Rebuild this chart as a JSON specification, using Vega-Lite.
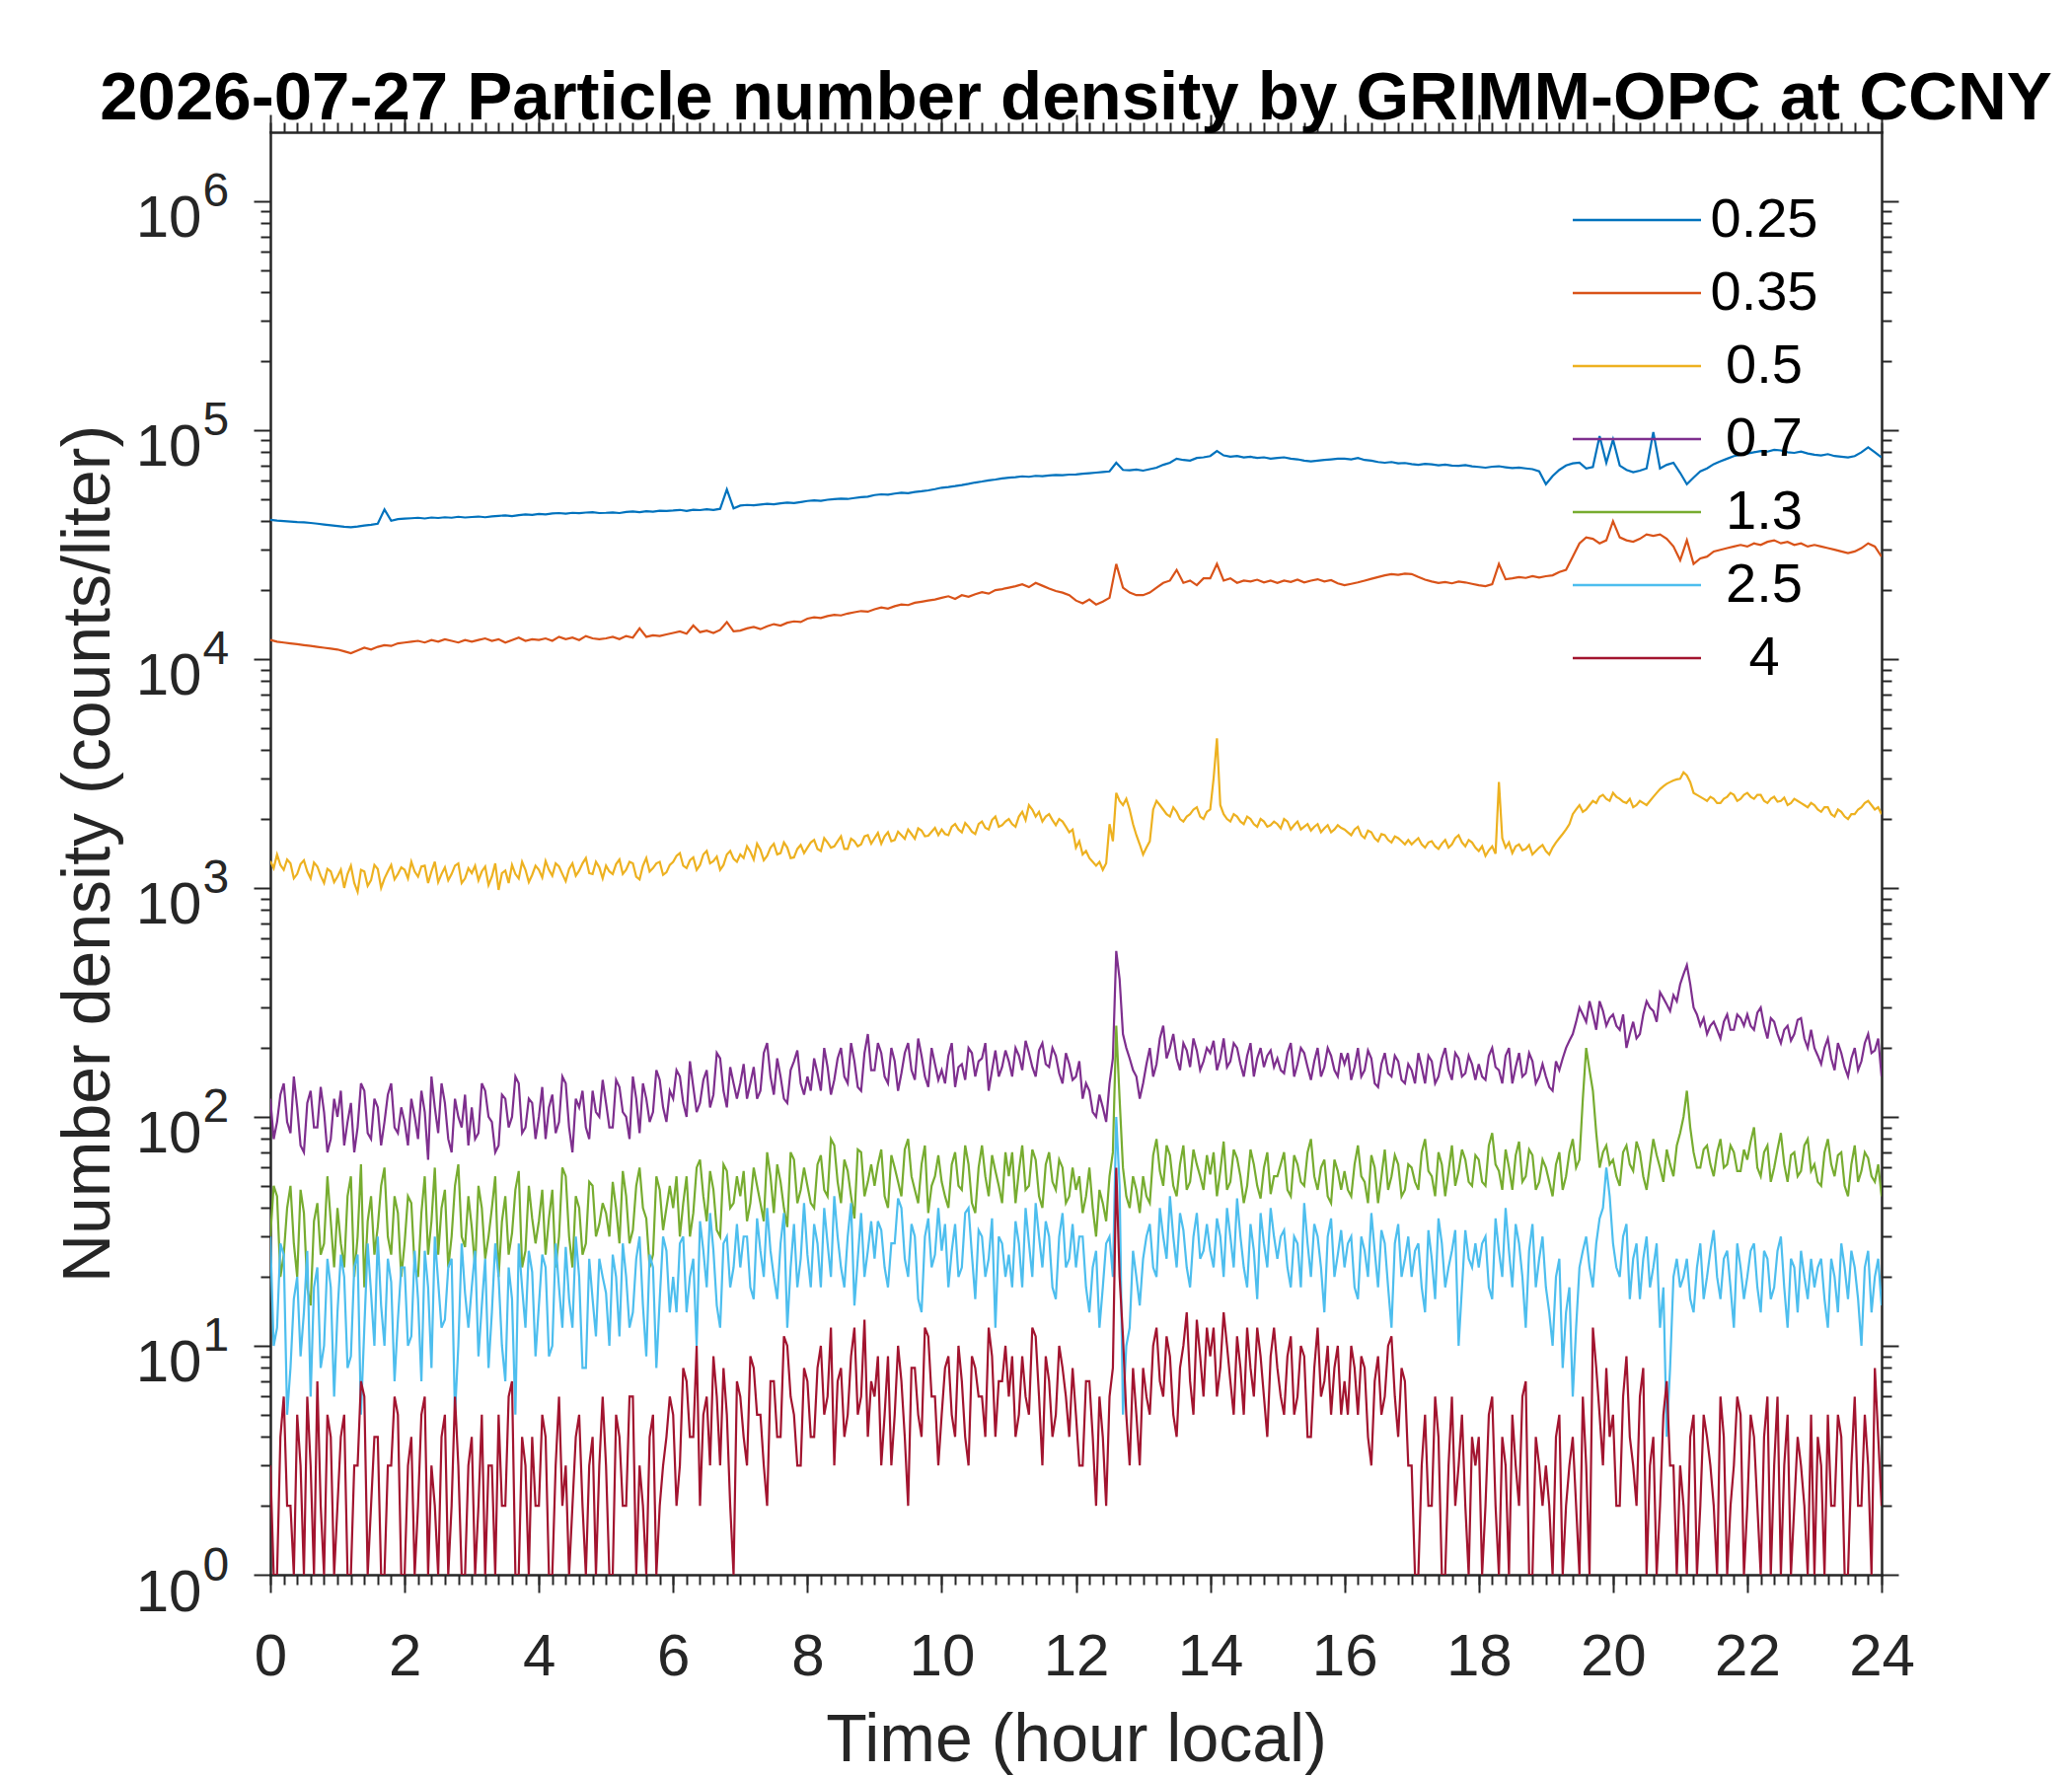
{
  "$schema": "https://vega.github.io/schema/vega-lite/v6.json",
  "width": 1633,
  "height": 1462,
  "autosize": "none",
  "padding": {"left": 274, "top": 134, "right": 193, "bottom": 204},
  "background": "white",
  "config": {
    "view": {"stroke": null},
    "axis": {
      "grid": false,
      "domainColor": "#262626",
      "domainWidth": 2.5,
      "domainCap": "square",
      "tickColor": "#262626",
      "tickWidth": 2,
      "labelColor": "#262626",
      "labelFont": "Liberation Sans",
      "labelFontSize": 60,
      "labelOverlap": false,
      "labelFlush": false,
      "titleFont": "Liberation Sans",
      "titleFontSize": 68,
      "titleFontWeight": "normal",
      "titleColor": "#262626"
    }
  },
  "title": {
    "text": "2026-07-27 Particle number density by GRIMM-OPC at CCNY",
    "font": "Liberation Sans",
    "fontSize": 69,
    "fontWeight": "bold",
    "color": "black",
    "anchor": "middle",
    "frame": "group",
    "baseline": "alphabetic",
    "offset": -75
  },
  "data": {
    "values": [
      {"t":0.0,"a":40500,"b":12100,"c":1310,"d":120,"e":30,"f":30,"g":3},
      {"t":0.1,"a":40200,"b":11900,"c":1400,"d":95,"e":45,"f":12,"g":1},
      {"t":0.2,"a":40000,"b":11800,"c":1200,"d":140,"e":25,"f":25,"g":6},
      {"t":0.3,"a":39800,"b":11700,"c":1280,"d":85,"e":50,"f":8,"g":2},
      {"t":0.4,"a":39600,"b":11600,"c":1150,"d":110,"e":20,"f":20,"g":5},
      {"t":0.5,"a":39500,"b":11500,"c":1320,"d":70,"e":38,"f":14,"g":1},
      {"t":0.6,"a":39300,"b":11400,"c":1100,"d":130,"e":15,"f":6,"g":3},
      {"t":0.7,"a":39000,"b":11300,"c":1240,"d":90,"e":42,"f":22,"g":7},
      {"t":0.8,"a":38700,"b":11200,"c":1050,"d":105,"e":28,"f":10,"g":1},
      {"t":0.9,"a":38400,"b":11100,"c":1180,"d":80,"e":35,"f":18,"g":4},
      {"t":1.0,"a":38100,"b":11000,"c":1120,"d":100,"e":40,"f":14,"g":2},
      {"t":1.1,"a":37800,"b":10800,"c":1000,"d":75,"e":22,"f":20,"g":5},
      {"t":1.2,"a":37600,"b":10600,"c":1250,"d":115,"e":55,"f":9,"g":1},
      {"t":1.3,"a":37900,"b":10900,"c":960,"d":90,"e":30,"f":25,"g":3},
      {"t":1.4,"a":38300,"b":11200,"c":1180,"d":130,"e":18,"f":12,"g":6},
      {"t":1.5,"a":38600,"b":11000,"c":1080,"d":80,"e":45,"f":17,"g":2},
      {"t":1.6,"a":39000,"b":11300,"c":1210,"d":110,"e":33,"f":30,"g":4},
      {"t":1.7,"a":45000,"b":11500,"c":1100,"d":95,"e":60,"f":10,"g":1},
      {"t":1.8,"a":40200,"b":11400,"c":1260,"d":140,"e":25,"f":19,"g":3},
      {"t":1.9,"a":40800,"b":11700,"c":1150,"d":85,"e":38,"f":13,"g":5},
      {"t":2.0,"a":41000,"b":11800,"c":1200,"d":95,"e":28,"f":22,"g":1},
      {"t":2.1,"a":41200,"b":11900,"c":1300,"d":120,"e":42,"f":11,"g":4},
      {"t":2.2,"a":41400,"b":12000,"c":1120,"d":80,"e":20,"f":16,"g":2},
      {"t":2.3,"a":41100,"b":11800,"c":1250,"d":105,"e":55,"f":26,"g":6},
      {"t":2.4,"a":41500,"b":12100,"c":1180,"d":150,"e":35,"f":8,"g":3},
      {"t":2.5,"a":41300,"b":11900,"c":1060,"d":85,"e":25,"f":19,"g":1},
      {"t":2.6,"a":41600,"b":12200,"c":1230,"d":115,"e":48,"f":13,"g":5},
      {"t":2.7,"a":41400,"b":12000,"c":1150,"d":70,"e":30,"f":24,"g":2},
      {"t":2.8,"a":41800,"b":11800,"c":1280,"d":100,"e":62,"f":10,"g":3},
      {"t":2.9,"a":41500,"b":12100,"c":1100,"d":125,"e":27,"f":17,"g":1},
      {"t":3.0,"a":41700,"b":11900,"c":1160,"d":110,"e":33,"f":18,"g":4},
      {"t":3.1,"a":41900,"b":12100,"c":1080,"d":85,"e":50,"f":9,"g":2},
      {"t":3.2,"a":41600,"b":12300,"c":1240,"d":130,"e":24,"f":24,"g":1},
      {"t":3.3,"a":42000,"b":12000,"c":1120,"d":95,"e":40,"f":14,"g":3},
      {"t":3.4,"a":42200,"b":12200,"c":980,"d":75,"e":20,"f":20,"g":5},
      {"t":3.5,"a":42400,"b":11800,"c":1190,"d":120,"e":45,"f":7,"g":2},
      {"t":3.6,"a":42100,"b":12100,"c":1260,"d":100,"e":31,"f":16,"g":7},
      {"t":3.7,"a":42500,"b":12400,"c":1100,"d":140,"e":58,"f":28,"g":1},
      {"t":3.8,"a":42800,"b":12000,"c":1200,"d":90,"e":26,"f":12,"g":3},
      {"t":3.9,"a":42600,"b":12200,"c":1140,"d":115,"e":36,"f":21,"g":4},
      {"t":4.0,"a":43000,"b":12100,"c":1200,"d":100,"e":35,"f":15,"g":2},
      {"t":4.1,"a":42800,"b":12300,"c":1310,"d":80,"e":25,"f":22,"g":4},
      {"t":4.2,"a":43200,"b":12000,"c":1130,"d":125,"e":48,"f":10,"g":1},
      {"t":4.3,"a":43400,"b":12500,"c":1240,"d":95,"e":30,"f":18,"g":6},
      {"t":4.4,"a":43100,"b":12200,"c":1070,"d":140,"e":55,"f":27,"g":3},
      {"t":4.5,"a":43500,"b":12400,"c":1280,"d":70,"e":22,"f":12,"g":2},
      {"t":4.6,"a":43300,"b":12100,"c":1190,"d":110,"e":40,"f":20,"g":5},
      {"t":4.7,"a":43600,"b":12600,"c":1350,"d":90,"e":28,"f":8,"g":1},
      {"t":4.8,"a":43800,"b":12300,"c":1150,"d":130,"e":50,"f":16,"g":4},
      {"t":4.9,"a":43400,"b":12200,"c":1230,"d":100,"e":34,"f":24,"g":3},
      {"t":5.0,"a":43500,"b":12300,"c":1250,"d":115,"e":38,"f":17,"g":3},
      {"t":5.1,"a":43700,"b":12500,"c":1150,"d":90,"e":52,"f":25,"g":1},
      {"t":5.2,"a":43400,"b":12200,"c":1330,"d":135,"e":28,"f":11,"g":4},
      {"t":5.3,"a":43900,"b":12600,"c":1200,"d":100,"e":45,"f":20,"g":2},
      {"t":5.4,"a":44100,"b":12400,"c":1280,"d":150,"e":32,"f":14,"g":6},
      {"t":5.5,"a":43800,"b":13600,"c":1090,"d":85,"e":60,"f":30,"g":3},
      {"t":5.6,"a":44200,"b":12500,"c":1350,"d":120,"e":36,"f":9,"g":1},
      {"t":5.7,"a":44000,"b":12700,"c":1220,"d":105,"e":25,"f":22,"g":5},
      {"t":5.8,"a":44400,"b":12600,"c":1300,"d":145,"e":48,"f":16,"g":2},
      {"t":5.9,"a":44300,"b":12800,"c":1170,"d":95,"e":40,"f":26,"g":4},
      {"t":6.0,"a":44500,"b":13000,"c":1300,"d":120,"e":40,"f":20,"g":5},
      {"t":6.1,"a":44800,"b":13200,"c":1420,"d":150,"e":30,"f":28,"g":3},
      {"t":6.2,"a":44300,"b":12900,"c":1220,"d":100,"e":55,"f":14,"g":7},
      {"t":6.3,"a":44900,"b":14000,"c":1360,"d":135,"e":38,"f":24,"g":4},
      {"t":6.4,"a":44700,"b":13100,"c":1260,"d":115,"e":65,"f":35,"g":2},
      {"t":6.5,"a":45100,"b":13300,"c":1450,"d":160,"e":35,"f":18,"g":6},
      {"t":6.6,"a":44800,"b":13000,"c":1310,"d":125,"e":48,"f":26,"g":9},
      {"t":6.7,"a":45300,"b":13400,"c":1200,"d":180,"e":30,"f":12,"g":3},
      {"t":6.8,"a":55000,"b":14500,"c":1400,"d":110,"e":58,"f":30,"g":5},
      {"t":6.9,"a":45500,"b":13200,"c":1340,"d":140,"e":42,"f":22,"g":1},
      {"t":7.0,"a":46800,"b":13300,"c":1400,"d":140,"e":45,"f":22,"g":6},
      {"t":7.1,"a":47100,"b":13600,"c":1520,"d":120,"e":35,"f":30,"g":3},
      {"t":7.2,"a":46900,"b":13800,"c":1330,"d":165,"e":60,"f":16,"g":8},
      {"t":7.3,"a":47300,"b":13500,"c":1470,"d":130,"e":42,"f":26,"g":5},
      {"t":7.4,"a":47600,"b":13900,"c":1380,"d":210,"e":70,"f":40,"g":2},
      {"t":7.5,"a":47400,"b":14200,"c":1560,"d":125,"e":38,"f":20,"g":7},
      {"t":7.6,"a":47900,"b":14000,"c":1420,"d":150,"e":52,"f":28,"g":4},
      {"t":7.7,"a":48200,"b":14400,"c":1500,"d":115,"e":33,"f":12,"g":10},
      {"t":7.8,"a":48000,"b":14600,"c":1360,"d":175,"e":65,"f":34,"g":5},
      {"t":7.9,"a":48500,"b":14500,"c":1540,"d":140,"e":48,"f":24,"g":3},
      {"t":8.0,"a":49000,"b":15000,"c":1500,"d":150,"e":50,"f":25,"g":7},
      {"t":8.1,"a":49300,"b":15200,"c":1620,"d":180,"e":40,"f":34,"g":4},
      {"t":8.2,"a":49100,"b":15100,"c":1450,"d":130,"e":68,"f":18,"g":10},
      {"t":8.3,"a":49600,"b":15400,"c":1580,"d":165,"e":45,"f":28,"g":6},
      {"t":8.4,"a":49900,"b":15600,"c":1520,"d":145,"e":75,"f":45,"g":3},
      {"t":8.5,"a":50200,"b":15500,"c":1680,"d":200,"e":42,"f":22,"g":8},
      {"t":8.6,"a":50000,"b":15800,"c":1480,"d":140,"e":58,"f":30,"g":5},
      {"t":8.7,"a":50500,"b":16000,"c":1600,"d":175,"e":36,"f":15,"g":12},
      {"t":8.8,"a":50900,"b":16200,"c":1550,"d":130,"e":70,"f":38,"g":6},
      {"t":8.9,"a":51200,"b":16100,"c":1700,"d":230,"e":52,"f":26,"g":4},
      {"t":9.0,"a":52000,"b":16500,"c":1650,"d":160,"e":50,"f":24,"g":6},
      {"t":9.1,"a":52400,"b":16800,"c":1560,"d":190,"e":72,"f":32,"g":3},
      {"t":9.2,"a":52200,"b":16600,"c":1750,"d":140,"e":40,"f":18,"g":9},
      {"t":9.3,"a":52800,"b":17000,"c":1620,"d":175,"e":60,"f":28,"g":5},
      {"t":9.4,"a":53200,"b":17300,"c":1700,"d":155,"e":45,"f":40,"g":7},
      {"t":9.5,"a":53000,"b":17200,"c":1800,"d":210,"e":80,"f":20,"g":2},
      {"t":9.6,"a":53600,"b":17600,"c":1640,"d":145,"e":48,"f":30,"g":8},
      {"t":9.7,"a":54000,"b":17800,"c":1780,"d":185,"e":62,"f":14,"g":4},
      {"t":9.8,"a":54500,"b":18000,"c":1690,"d":135,"e":38,"f":36,"g":11},
      {"t":9.9,"a":55200,"b":18200,"c":1830,"d":170,"e":55,"f":25,"g":6},
      {"t":10.0,"a":56000,"b":18500,"c":1800,"d":160,"e":52,"f":26,"g":5},
      {"t":10.1,"a":56400,"b":18800,"c":1700,"d":185,"e":40,"f":18,"g":9},
      {"t":10.2,"a":56900,"b":18300,"c":1900,"d":135,"e":70,"f":34,"g":4},
      {"t":10.3,"a":57500,"b":19000,"c":1750,"d":170,"e":48,"f":22,"g":7},
      {"t":10.4,"a":58200,"b":18700,"c":1850,"d":200,"e":62,"f":40,"g":3},
      {"t":10.5,"a":59000,"b":19200,"c":1720,"d":150,"e":38,"f":16,"g":8},
      {"t":10.6,"a":59600,"b":19600,"c":1950,"d":180,"e":75,"f":30,"g":6},
      {"t":10.7,"a":60300,"b":19300,"c":1800,"d":130,"e":45,"f":24,"g":12},
      {"t":10.8,"a":60800,"b":20000,"c":2050,"d":195,"e":58,"f":12,"g":4},
      {"t":10.9,"a":61500,"b":20200,"c":1880,"d":165,"e":42,"f":28,"g":7},
      {"t":11.0,"a":62000,"b":20500,"c":2000,"d":175,"e":55,"f":25,"g":6},
      {"t":11.1,"a":62300,"b":20800,"c":1850,"d":200,"e":42,"f":35,"g":4},
      {"t":11.2,"a":62800,"b":21200,"c":2150,"d":160,"e":75,"f":18,"g":9},
      {"t":11.3,"a":62500,"b":20600,"c":2300,"d":190,"e":50,"f":28,"g":5},
      {"t":11.4,"a":63100,"b":21500,"c":2050,"d":150,"e":65,"f":42,"g":11},
      {"t":11.5,"a":62900,"b":20900,"c":1950,"d":210,"e":40,"f":22,"g":3},
      {"t":11.6,"a":63400,"b":20300,"c":2100,"d":165,"e":70,"f":30,"g":7},
      {"t":11.7,"a":63700,"b":19800,"c":1880,"d":185,"e":48,"f":16,"g":5},
      {"t":11.8,"a":63500,"b":19500,"c":1950,"d":140,"e":60,"f":38,"g":8},
      {"t":11.9,"a":63900,"b":19000,"c":1750,"d":170,"e":45,"f":24,"g":4},
      {"t":12.0,"a":64000,"b":18000,"c":1500,"d":150,"e":48,"f":22,"g":5},
      {"t":12.1,"a":64400,"b":17500,"c":1400,"d":120,"e":38,"f":30,"g":3},
      {"t":12.2,"a":64800,"b":18200,"c":1350,"d":130,"e":60,"f":14,"g":7},
      {"t":12.3,"a":65200,"b":17300,"c":1250,"d":100,"e":30,"f":26,"g":2},
      {"t":12.4,"a":65600,"b":17800,"c":1200,"d":110,"e":42,"f":18,"g":4},
      {"t":12.5,"a":66000,"b":18500,"c":1900,"d":140,"e":55,"f":30,"g":6},
      {"t":12.6,"a":72000,"b":26000,"c":2600,"d":530,"e":250,"f":100,"g":60},
      {"t":12.7,"a":67000,"b":20500,"c":2300,"d":230,"e":60,"f":5,"g":11},
      {"t":12.8,"a":66800,"b":19500,"c":2200,"d":180,"e":40,"f":12,"g":3},
      {"t":12.9,"a":67200,"b":19000,"c":1700,"d":150,"e":48,"f":20,"g":5},
      {"t":13.0,"a":66500,"b":19000,"c":1400,"d":140,"e":55,"f":24,"g":8},
      {"t":13.1,"a":67500,"b":19500,"c":1600,"d":200,"e":42,"f":34,"g":5},
      {"t":13.2,"a":68500,"b":20500,"c":2400,"d":170,"e":80,"f":20,"g":12},
      {"t":13.3,"a":70500,"b":21500,"c":2200,"d":250,"e":50,"f":30,"g":6},
      {"t":13.4,"a":72000,"b":22000,"c":2050,"d":200,"e":68,"f":45,"g":9},
      {"t":13.5,"a":75000,"b":24500,"c":2150,"d":180,"e":45,"f":22,"g":4},
      {"t":13.6,"a":74000,"b":21500,"c":1950,"d":210,"e":75,"f":32,"g":10},
      {"t":13.7,"a":73500,"b":22000,"c":2100,"d":165,"e":52,"f":18,"g":7},
      {"t":13.8,"a":75500,"b":21000,"c":2250,"d":195,"e":62,"f":38,"g":13},
      {"t":13.9,"a":76000,"b":22500,"c":2000,"d":175,"e":48,"f":26,"g":6},
      {"t":14.0,"a":77000,"b":22500,"c":2200,"d":190,"e":56,"f":26,"g":9},
      {"t":14.1,"a":81000,"b":26000,"c":4500,"d":160,"e":45,"f":36,"g":6},
      {"t":14.2,"a":77500,"b":22000,"c":2100,"d":220,"e":78,"f":20,"g":14},
      {"t":14.3,"a":76500,"b":22500,"c":1950,"d":175,"e":52,"f":30,"g":7},
      {"t":14.4,"a":77000,"b":21500,"c":2050,"d":200,"e":66,"f":44,"g":11},
      {"t":14.5,"a":76000,"b":22000,"c":1900,"d":150,"e":42,"f":22,"g":5},
      {"t":14.6,"a":76500,"b":21800,"c":2000,"d":210,"e":72,"f":34,"g":8},
      {"t":14.7,"a":75500,"b":22200,"c":1850,"d":180,"e":50,"f":16,"g":12},
      {"t":14.8,"a":76000,"b":21600,"c":1950,"d":165,"e":60,"f":28,"g":6},
      {"t":14.9,"a":75000,"b":22000,"c":1880,"d":195,"e":46,"f":40,"g":9},
      {"t":15.0,"a":75500,"b":21500,"c":1900,"d":180,"e":55,"f":24,"g":8},
      {"t":15.1,"a":76000,"b":22000,"c":2000,"d":155,"e":70,"f":32,"g":5},
      {"t":15.2,"a":75000,"b":21700,"c":1800,"d":210,"e":45,"f":18,"g":11},
      {"t":15.3,"a":74500,"b":22200,"c":1950,"d":170,"e":62,"f":28,"g":6},
      {"t":15.4,"a":73500,"b":21600,"c":1850,"d":190,"e":50,"f":42,"g":9},
      {"t":15.5,"a":73000,"b":22000,"c":1780,"d":145,"e":80,"f":20,"g":4},
      {"t":15.6,"a":73500,"b":22300,"c":1900,"d":200,"e":48,"f":30,"g":12},
      {"t":15.7,"a":74000,"b":21800,"c":1820,"d":165,"e":65,"f":14,"g":7},
      {"t":15.8,"a":74500,"b":22100,"c":1750,"d":185,"e":42,"f":36,"g":5},
      {"t":15.9,"a":75000,"b":21400,"c":1880,"d":150,"e":58,"f":25,"g":10},
      {"t":16.0,"a":75000,"b":21000,"c":1800,"d":170,"e":58,"f":22,"g":7},
      {"t":16.1,"a":74500,"b":21300,"c":1700,"d":145,"e":45,"f":30,"g":10},
      {"t":16.2,"a":75500,"b":21600,"c":1850,"d":200,"e":75,"f":16,"g":5},
      {"t":16.3,"a":74000,"b":22000,"c":1650,"d":160,"e":52,"f":26,"g":8},
      {"t":16.4,"a":73500,"b":22400,"c":1750,"d":180,"e":68,"f":38,"g":3},
      {"t":16.5,"a":72500,"b":22800,"c":1600,"d":135,"e":42,"f":18,"g":9},
      {"t":16.6,"a":72000,"b":23200,"c":1700,"d":190,"e":72,"f":28,"g":6},
      {"t":16.7,"a":72500,"b":23500,"c":1580,"d":150,"e":55,"f":12,"g":11},
      {"t":16.8,"a":71500,"b":23300,"c":1650,"d":175,"e":62,"f":34,"g":4},
      {"t":16.9,"a":71800,"b":23600,"c":1550,"d":140,"e":48,"f":24,"g":7},
      {"t":17.0,"a":71000,"b":23500,"c":1550,"d":160,"e":60,"f":20,"g":3},
      {"t":17.1,"a":70500,"b":22800,"c":1650,"d":190,"e":48,"f":28,"g":1},
      {"t":17.2,"a":71200,"b":22200,"c":1500,"d":140,"e":80,"f":14,"g":5},
      {"t":17.3,"a":70800,"b":21800,"c":1600,"d":175,"e":55,"f":24,"g":2},
      {"t":17.4,"a":70200,"b":21500,"c":1480,"d":150,"e":70,"f":36,"g":4},
      {"t":17.5,"a":70600,"b":21700,"c":1620,"d":200,"e":45,"f":18,"g":1},
      {"t":17.6,"a":70000,"b":21400,"c":1550,"d":145,"e":75,"f":26,"g":6},
      {"t":17.7,"a":69800,"b":21800,"c":1700,"d":180,"e":58,"f":10,"g":3},
      {"t":17.8,"a":70300,"b":21600,"c":1520,"d":155,"e":65,"f":32,"g":2},
      {"t":17.9,"a":69500,"b":21300,"c":1580,"d":170,"e":50,"f":22,"g":4},
      {"t":18.0,"a":69000,"b":21000,"c":1450,"d":170,"e":65,"f":22,"g":4},
      {"t":18.1,"a":68500,"b":20800,"c":1380,"d":145,"e":50,"f":30,"g":2},
      {"t":18.2,"a":69200,"b":21200,"c":1520,"d":200,"e":85,"f":16,"g":6},
      {"t":18.3,"a":69500,"b":26000,"c":2900,"d":160,"e":58,"f":26,"g":1},
      {"t":18.4,"a":68800,"b":22300,"c":1500,"d":185,"e":72,"f":40,"g":3},
      {"t":18.5,"a":68200,"b":22500,"c":1420,"d":140,"e":48,"f":18,"g":5},
      {"t":18.6,"a":68600,"b":22800,"c":1550,"d":190,"e":78,"f":28,"g":2},
      {"t":18.7,"a":68000,"b":22600,"c":1480,"d":155,"e":55,"f":12,"g":7},
      {"t":18.8,"a":67500,"b":23000,"c":1400,"d":175,"e":68,"f":34,"g":1},
      {"t":18.9,"a":66000,"b":22700,"c":1500,"d":150,"e":52,"f":24,"g":3},
      {"t":19.0,"a":58000,"b":23000,"c":1450,"d":150,"e":60,"f":18,"g":3},
      {"t":19.1,"a":63000,"b":23200,"c":1500,"d":130,"e":45,"f":10,"g":1},
      {"t":19.2,"a":67000,"b":24000,"c":1650,"d":160,"e":70,"f":24,"g":5},
      {"t":19.3,"a":70000,"b":24500,"c":1800,"d":200,"e":55,"f":14,"g":2},
      {"t":19.4,"a":71500,"b":28000,"c":2100,"d":230,"e":80,"f":6,"g":4},
      {"t":19.5,"a":72000,"b":32000,"c":2300,"d":300,"e":65,"f":22,"g":1},
      {"t":19.6,"a":68000,"b":34000,"c":2200,"d":260,"e":200,"f":30,"g":3},
      {"t":19.7,"a":69000,"b":33500,"c":2400,"d":280,"e":130,"f":18,"g":12},
      {"t":19.8,"a":94000,"b":32000,"c":2500,"d":320,"e":60,"f":36,"g":5},
      {"t":19.9,"a":72000,"b":33000,"c":2450,"d":250,"e":75,"f":60,"g":8},
      {"t":20.0,"a":91000,"b":40000,"c":2600,"d":280,"e":65,"f":28,"g":5},
      {"t":20.1,"a":70000,"b":34000,"c":2450,"d":240,"e":50,"f":20,"g":2},
      {"t":20.2,"a":67000,"b":33000,"c":2350,"d":200,"e":75,"f":34,"g":9},
      {"t":20.3,"a":65500,"b":32500,"c":2250,"d":260,"e":58,"f":24,"g":3},
      {"t":20.4,"a":66500,"b":33500,"c":2400,"d":230,"e":70,"f":16,"g":6},
      {"t":20.5,"a":68000,"b":35000,"c":2300,"d":320,"e":48,"f":30,"g":1},
      {"t":20.6,"a":98000,"b":34500,"c":2500,"d":290,"e":80,"f":22,"g":4},
      {"t":20.7,"a":68000,"b":35000,"c":2700,"d":350,"e":60,"f":12,"g":2},
      {"t":20.8,"a":70500,"b":33500,"c":2850,"d":310,"e":72,"f":4,"g":7},
      {"t":20.9,"a":72000,"b":31000,"c":2950,"d":340,"e":55,"f":20,"g":3},
      {"t":21.0,"a":65000,"b":27000,"c":3000,"d":380,"e":85,"f":18,"g":3},
      {"t":21.1,"a":58000,"b":33000,"c":3100,"d":460,"e":130,"f":24,"g":1},
      {"t":21.2,"a":62000,"b":26000,"c":2600,"d":300,"e":70,"f":14,"g":5},
      {"t":21.3,"a":66000,"b":27500,"c":2500,"d":250,"e":60,"f":28,"g":2},
      {"t":21.4,"a":68000,"b":28000,"c":2400,"d":230,"e":75,"f":20,"g":4},
      {"t":21.5,"a":71000,"b":29500,"c":2450,"d":260,"e":55,"f":32,"g":2},
      {"t":21.6,"a":73000,"b":30000,"c":2350,"d":220,"e":80,"f":16,"g":6},
      {"t":21.7,"a":75000,"b":30500,"c":2500,"d":280,"e":62,"f":26,"g":1},
      {"t":21.8,"a":77000,"b":31000,"c":2550,"d":240,"e":70,"f":12,"g":3},
      {"t":21.9,"a":78000,"b":31500,"c":2450,"d":270,"e":58,"f":22,"g":5},
      {"t":22.0,"a":79000,"b":31000,"c":2600,"d":280,"e":65,"f":20,"g":2},
      {"t":22.1,"a":80000,"b":32000,"c":2450,"d":240,"e":90,"f":28,"g":4},
      {"t":22.2,"a":81000,"b":31500,"c":2550,"d":300,"e":55,"f":14,"g":1},
      {"t":22.3,"a":80500,"b":32500,"c":2350,"d":220,"e":75,"f":24,"g":6},
      {"t":22.4,"a":82000,"b":33000,"c":2500,"d":260,"e":60,"f":18,"g":3},
      {"t":22.5,"a":81500,"b":32000,"c":2400,"d":210,"e":85,"f":30,"g":1},
      {"t":22.6,"a":80000,"b":32500,"c":2300,"d":250,"e":52,"f":12,"g":5},
      {"t":22.7,"a":79500,"b":31500,"c":2450,"d":230,"e":70,"f":22,"g":2},
      {"t":22.8,"a":80500,"b":32000,"c":2350,"d":270,"e":58,"f":26,"g":3},
      {"t":22.9,"a":79000,"b":31000,"c":2250,"d":200,"e":80,"f":16,"g":1},
      {"t":23.0,"a":78000,"b":31500,"c":2300,"d":200,"e":62,"f":18,"g":1},
      {"t":23.1,"a":77500,"b":31000,"c":2150,"d":170,"e":50,"f":24,"g":3},
      {"t":23.2,"a":78500,"b":30500,"c":2250,"d":220,"e":80,"f":12,"g":5},
      {"t":23.3,"a":77000,"b":30000,"c":2050,"d":160,"e":55,"f":20,"g":2},
      {"t":23.4,"a":76500,"b":29500,"c":2150,"d":190,"e":70,"f":28,"g":4},
      {"t":23.5,"a":76000,"b":29000,"c":2000,"d":150,"e":45,"f":16,"g":1},
      {"t":23.6,"a":77000,"b":29500,"c":2100,"d":200,"e":75,"f":22,"g":6},
      {"t":23.7,"a":80000,"b":30500,"c":2250,"d":175,"e":58,"f":10,"g":2},
      {"t":23.8,"a":84000,"b":32000,"c":2400,"d":230,"e":66,"f":26,"g":3},
      {"t":23.9,"a":80000,"b":31000,"c":2200,"d":195,"e":52,"f":20,"g":8},
      {"t":24.0,"a":76000,"b":28000,"c":2100,"d":150,"e":45,"f":15,"g":2},
      {"t":0.05,"c":1220,"d":80,"e":50,"f":10,"g":1},
      {"t":0.15,"c":1260,"d":125,"e":20,"f":28,"g":4},
      {"t":0.25,"c":1330,"d":95,"e":40,"f":5,"g":2},
      {"t":0.35,"c":1100,"d":150,"e":28,"f":16,"g":1},
      {"t":0.45,"c":1270,"d":75,"e":48,"f":9,"g":3},
      {"t":0.55,"c":1180,"d":115,"e":18,"f":26,"g":6},
      {"t":0.65,"c":1290,"d":90,"e":35,"f":18,"g":1},
      {"t":0.75,"c":1130,"d":135,"e":25,"f":8,"g":2},
      {"t":0.85,"c":1210,"d":70,"e":55,"f":24,"g":5},
      {"t":0.95,"c":1060,"d":120,"e":22,"f":6,"g":1},
      {"t":1.05,"c":1200,"d":130,"e":28,"f":25,"g":4},
      {"t":1.15,"c":1150,"d":95,"e":45,"f":8,"g":1},
      {"t":1.25,"c":1050,"d":70,"e":20,"f":22,"g":3},
      {"t":1.35,"c":1200,"d":140,"e":62,"f":5,"g":7},
      {"t":1.45,"c":1020,"d":85,"e":35,"f":28,"g":1},
      {"t":1.55,"c":1260,"d":120,"e":25,"f":10,"g":4},
      {"t":1.65,"c":1000,"d":75,"e":50,"f":15,"g":1},
      {"t":1.75,"c":1180,"d":125,"e":30,"f":24,"g":3},
      {"t":1.85,"c":1090,"d":90,"e":45,"f":7,"g":6},
      {"t":1.95,"c":1230,"d":110,"e":20,"f":22,"g":1},
      {"t":2.05,"c":1100,"d":75,"e":45,"f":10,"g":3},
      {"t":2.15,"c":1180,"d":100,"e":22,"f":26,"g":1},
      {"t":2.25,"c":1240,"d":130,"e":38,"f":7,"g":5},
      {"t":2.35,"c":1050,"d":65,"e":25,"f":18,"g":1},
      {"t":2.45,"c":1300,"d":110,"e":60,"f":30,"g":2},
      {"t":2.55,"c":1150,"d":140,"e":40,"f":12,"g":4},
      {"t":2.65,"c":1080,"d":80,"e":22,"f":22,"g":1},
      {"t":2.75,"c":1250,"d":120,"e":50,"f":5,"g":6},
      {"t":2.85,"c":1050,"d":90,"e":30,"f":28,"g":1},
      {"t":2.95,"c":1220,"d":75,"e":45,"f":12,"g":3},
      {"t":3.05,"c":1250,"d":80,"e":22,"f":26,"g":1},
      {"t":3.15,"c":1180,"d":140,"e":40,"f":15,"g":5},
      {"t":3.25,"c":1030,"d":100,"e":30,"f":8,"g":3},
      {"t":3.35,"c":1280,"d":70,"e":55,"f":28,"g":1},
      {"t":3.45,"c":1160,"d":125,"e":35,"f":10,"g":2},
      {"t":3.55,"c":1050,"d":90,"e":25,"f":22,"g":6},
      {"t":3.65,"c":1150,"d":150,"e":48,"f":5,"g":1},
      {"t":3.75,"c":1300,"d":85,"e":22,"f":18,"g":4},
      {"t":3.85,"c":1060,"d":120,"e":50,"f":26,"g":1},
      {"t":3.95,"c":1250,"d":80,"e":28,"f":9,"g":2},
      {"t":4.05,"c":1110,"d":135,"e":48,"f":25,"g":5},
      {"t":4.15,"c":1200,"d":110,"e":36,"f":9,"g":1},
      {"t":4.25,"c":1280,"d":85,"e":22,"f":28,"g":3},
      {"t":4.35,"c":1150,"d":150,"e":60,"f":12,"g":2},
      {"t":4.45,"c":1210,"d":90,"e":30,"f":16,"g":1},
      {"t":4.55,"c":1130,"d":120,"e":45,"f":30,"g":4},
      {"t":4.65,"c":1280,"d":130,"e":25,"f":8,"g":2},
      {"t":4.75,"c":1160,"d":80,"e":52,"f":24,"g":3},
      {"t":4.85,"c":1300,"d":105,"e":30,"f":11,"g":1},
      {"t":4.95,"c":1100,"d":145,"e":42,"f":20,"g":6},
      {"t":5.05,"c":1180,"d":90,"e":30,"f":10,"g":1},
      {"t":5.15,"c":1270,"d":145,"e":40,"f":20,"g":5},
      {"t":5.25,"c":1150,"d":105,"e":58,"f":28,"g":2},
      {"t":5.35,"c":1300,"d":80,"e":28,"f":12,"g":6},
      {"t":5.45,"c":1120,"d":120,"e":50,"f":24,"g":1},
      {"t":5.55,"c":1250,"d":140,"e":40,"f":15,"g":2},
      {"t":5.65,"c":1180,"d":95,"e":22,"f":25,"g":4},
      {"t":5.75,"c":1280,"d":160,"e":55,"f":8,"g":1},
      {"t":5.85,"c":1140,"d":110,"e":32,"f":30,"g":3},
      {"t":5.95,"c":1260,"d":130,"e":50,"f":14,"g":6},
      {"t":6.05,"c":1380,"d":160,"e":55,"f":14,"g":2},
      {"t":6.15,"c":1250,"d":115,"e":42,"f":30,"g":8},
      {"t":6.25,"c":1320,"d":175,"e":30,"f":20,"g":4},
      {"t":6.35,"c":1200,"d":105,"e":60,"f":10,"g":10},
      {"t":6.45,"c":1400,"d":145,"e":45,"f":26,"g":5},
      {"t":6.55,"c":1280,"d":110,"e":58,"f":38,"g":3},
      {"t":6.65,"c":1370,"d":190,"e":32,"f":15,"g":6},
      {"t":6.75,"c":1260,"d":130,"e":62,"f":28,"g":8},
      {"t":6.85,"c":1450,"d":165,"e":40,"f":18,"g":2},
      {"t":6.95,"c":1300,"d":120,"e":55,"f":34,"g":7},
      {"t":7.05,"c":1350,"d":170,"e":58,"f":30,"g":4},
      {"t":7.15,"c":1440,"d":140,"e":42,"f":18,"g":9},
      {"t":7.25,"c":1560,"d":120,"e":50,"f":36,"g":5},
      {"t":7.35,"c":1320,"d":190,"e":35,"f":20,"g":3},
      {"t":7.45,"c":1500,"d":150,"e":55,"f":26,"g":7},
      {"t":7.55,"c":1400,"d":180,"e":62,"f":16,"g":4},
      {"t":7.65,"c":1580,"d":120,"e":40,"f":38,"g":11},
      {"t":7.75,"c":1350,"d":160,"e":70,"f":22,"g":6},
      {"t":7.85,"c":1480,"d":195,"e":42,"f":18,"g":3},
      {"t":7.95,"c":1420,"d":125,"e":60,"f":42,"g":8},
      {"t":8.05,"c":1580,"d":130,"e":42,"f":18,"g":4},
      {"t":8.15,"c":1480,"d":155,"e":62,"f":28,"g":8},
      {"t":8.25,"c":1650,"d":200,"e":48,"f":40,"g":5},
      {"t":8.35,"c":1500,"d":125,"e":80,"f":20,"g":12},
      {"t":8.45,"c":1600,"d":180,"e":52,"f":30,"g":7},
      {"t":8.55,"c":1480,"d":150,"e":65,"f":18,"g":4},
      {"t":8.65,"c":1640,"d":210,"e":45,"f":42,"g":9},
      {"t":8.75,"c":1520,"d":135,"e":72,"f":24,"g":5},
      {"t":8.85,"c":1680,"d":190,"e":45,"f":20,"g":13},
      {"t":8.95,"c":1560,"d":160,"e":62,"f":35,"g":7},
      {"t":9.05,"c":1740,"d":210,"e":62,"f":35,"g":9},
      {"t":9.15,"c":1680,"d":150,"e":45,"f":22,"g":5},
      {"t":9.25,"c":1600,"d":200,"e":68,"f":28,"g":3},
      {"t":9.35,"c":1760,"d":130,"e":52,"f":44,"g":10},
      {"t":9.45,"c":1640,"d":190,"e":72,"f":24,"g":4},
      {"t":9.55,"c":1720,"d":160,"e":55,"f":34,"g":8},
      {"t":9.65,"c":1820,"d":220,"e":42,"f":16,"g":5},
      {"t":9.75,"c":1680,"d":150,"e":75,"f":30,"g":12},
      {"t":9.85,"c":1760,"d":200,"e":50,"f":22,"g":6},
      {"t":9.95,"c":1700,"d":145,"e":68,"f":40,"g":3},
      {"t":10.05,"c":1720,"d":140,"e":45,"f":34,"g":8},
      {"t":10.15,"c":1850,"d":210,"e":62,"f":26,"g":5},
      {"t":10.25,"c":1800,"d":165,"e":50,"f":20,"g":10},
      {"t":10.35,"c":1920,"d":145,"e":75,"f":38,"g":4},
      {"t":10.45,"c":1760,"d":190,"e":42,"f":25,"g":9},
      {"t":10.55,"c":1900,"d":175,"e":60,"f":32,"g":6},
      {"t":10.65,"c":1830,"d":210,"e":55,"f":20,"g":4},
      {"t":10.75,"c":1980,"d":160,"e":68,"f":36,"g":9},
      {"t":10.85,"c":1850,"d":150,"e":50,"f":30,"g":7},
      {"t":10.95,"c":1950,"d":195,"e":70,"f":20,"g":10},
      {"t":11.05,"c":1900,"d":150,"e":70,"f":18,"g":9},
      {"t":11.15,"c":2050,"d":185,"e":58,"f":28,"g":5},
      {"t":11.25,"c":1980,"d":215,"e":48,"f":40,"g":6},
      {"t":11.35,"c":2200,"d":165,"e":72,"f":20,"g":12},
      {"t":11.45,"c":2150,"d":195,"e":45,"f":30,"g":6},
      {"t":11.55,"c":2050,"d":170,"e":62,"f":35,"g":9},
      {"t":11.65,"c":1980,"d":200,"e":52,"f":18,"g":4},
      {"t":11.75,"c":2000,"d":155,"e":65,"f":30,"g":10},
      {"t":11.85,"c":1850,"d":190,"e":42,"f":22,"g":6},
      {"t":11.95,"c":1800,"d":145,"e":60,"f":34,"g":8},
      {"t":12.05,"c":1600,"d":175,"e":55,"f":30,"g":3},
      {"t":12.15,"c":1450,"d":140,"e":45,"f":18,"g":7},
      {"t":12.25,"c":1300,"d":105,"e":40,"f":22,"g":4},
      {"t":12.35,"c":1300,"d":125,"e":48,"f":12,"g":6},
      {"t":12.45,"c":1280,"d":95,"e":35,"f":28,"g":2},
      {"t":12.55,"c":1600,"d":180,"e":70,"f":20,"g":8},
      {"t":12.65,"c":2400,"d":400,"e":120,"f":50,"g":20},
      {"t":12.75,"c":2450,"d":200,"e":45,"f":10,"g":5},
      {"t":12.85,"c":1900,"d":160,"e":55,"f":26,"g":8},
      {"t":12.95,"c":1550,"d":120,"e":38,"f":15,"g":3},
      {"t":13.05,"c":1500,"d":170,"e":45,"f":30,"g":6},
      {"t":13.15,"c":2200,"d":150,"e":68,"f":22,"g":10},
      {"t":13.25,"c":2300,"d":220,"e":58,"f":40,"g":7},
      {"t":13.35,"c":2100,"d":180,"e":75,"f":24,"g":11},
      {"t":13.45,"c":2250,"d":230,"e":50,"f":30,"g":5},
      {"t":13.55,"c":2000,"d":160,"e":62,"f":38,"g":8},
      {"t":13.65,"c":2050,"d":195,"e":48,"f":22,"g":14},
      {"t":13.75,"c":2200,"d":220,"e":72,"f":30,"g":5},
      {"t":13.85,"c":2050,"d":160,"e":55,"f":24,"g":9},
      {"t":13.95,"c":2150,"d":200,"e":68,"f":34,"g":12},
      {"t":14.05,"c":3000,"d":215,"e":70,"f":22,"g":12},
      {"t":14.15,"c":2300,"d":180,"e":58,"f":30,"g":8},
      {"t":14.25,"c":2000,"d":165,"e":48,"f":40,"g":10},
      {"t":14.35,"c":2100,"d":210,"e":72,"f":22,"g":5},
      {"t":14.45,"c":1950,"d":170,"e":55,"f":30,"g":8},
      {"t":14.55,"c":2050,"d":185,"e":50,"f":18,"g":12},
      {"t":14.65,"c":1900,"d":150,"e":62,"f":26,"g":6},
      {"t":14.75,"c":2000,"d":200,"e":44,"f":38,"g":9},
      {"t":14.85,"c":1850,"d":185,"e":70,"f":22,"g":4},
      {"t":14.95,"c":1950,"d":165,"e":55,"f":30,"g":12},
      {"t":15.05,"c":1820,"d":160,"e":62,"f":30,"g":6},
      {"t":15.15,"c":1950,"d":190,"e":48,"f":22,"g":9},
      {"t":15.25,"c":1880,"d":150,"e":68,"f":30,"g":5},
      {"t":15.35,"c":1800,"d":200,"e":52,"f":18,"g":10},
      {"t":15.45,"c":1900,"d":165,"e":70,"f":28,"g":4},
      {"t":15.55,"c":1850,"d":175,"e":55,"f":34,"g":8},
      {"t":15.65,"c":1750,"d":150,"e":60,"f":22,"g":6},
      {"t":15.75,"c":1880,"d":200,"e":45,"f":30,"g":10},
      {"t":15.85,"c":1800,"d":160,"e":65,"f":20,"g":8},
      {"t":15.95,"c":1830,"d":190,"e":48,"f":32,"g":5},
      {"t":16.05,"c":1750,"d":190,"e":48,"f":28,"g":5},
      {"t":16.15,"c":1800,"d":165,"e":62,"f":18,"g":8},
      {"t":16.25,"c":1700,"d":150,"e":55,"f":30,"g":9},
      {"t":16.35,"c":1780,"d":195,"e":42,"f":20,"g":4},
      {"t":16.45,"c":1650,"d":140,"e":60,"f":26,"g":7},
      {"t":16.55,"c":1720,"d":170,"e":55,"f":32,"g":5},
      {"t":16.65,"c":1620,"d":155,"e":48,"f":18,"g":10},
      {"t":16.75,"c":1680,"d":185,"e":68,"f":28,"g":6},
      {"t":16.85,"c":1600,"d":145,"e":45,"f":20,"g":8},
      {"t":16.95,"c":1620,"d":170,"e":62,"f":30,"g":3},
      {"t":17.05,"c":1600,"d":140,"e":52,"f":26,"g":1},
      {"t":17.15,"c":1550,"d":165,"e":70,"f":18,"g":3},
      {"t":17.25,"c":1580,"d":185,"e":58,"f":32,"g":2},
      {"t":17.35,"c":1520,"d":140,"e":45,"f":16,"g":6},
      {"t":17.45,"c":1560,"d":180,"e":62,"f":28,"g":1},
      {"t":17.55,"c":1500,"d":160,"e":58,"f":22,"g":3},
      {"t":17.65,"c":1650,"d":190,"e":50,"f":32,"g":2},
      {"t":17.75,"c":1580,"d":150,"e":72,"f":18,"g":5},
      {"t":17.85,"c":1620,"d":185,"e":52,"f":24,"g":1},
      {"t":17.95,"c":1500,"d":145,"e":68,"f":28,"g":3},
      {"t":18.05,"c":1520,"d":150,"e":52,"f":28,"g":1},
      {"t":18.15,"c":1460,"d":185,"e":75,"f":18,"g":5},
      {"t":18.25,"c":1410,"d":165,"e":62,"f":36,"g":2},
      {"t":18.35,"c":1650,"d":140,"e":48,"f":20,"g":4},
      {"t":18.45,"c":1580,"d":200,"e":60,"f":26,"g":1},
      {"t":18.55,"c":1520,"d":165,"e":68,"f":34,"g":3},
      {"t":18.65,"c":1460,"d":150,"e":52,"f":20,"g":6},
      {"t":18.75,"c":1540,"d":190,"e":72,"f":26,"g":1},
      {"t":18.85,"c":1450,"d":140,"e":48,"f":18,"g":4},
      {"t":18.95,"c":1540,"d":170,"e":65,"f":30,"g":2},
      {"t":19.05,"c":1400,"d":135,"e":52,"f":14,"g":2},
      {"t":19.15,"c":1580,"d":175,"e":62,"f":20,"g":4},
      {"t":19.25,"c":1720,"d":180,"e":48,"f":8,"g":1},
      {"t":19.35,"c":1900,"d":215,"e":70,"f":18,"g":3},
      {"t":19.45,"c":2200,"d":260,"e":60,"f":12,"g":2},
      {"t":19.55,"c":2150,"d":280,"e":120,"f":26,"g":6},
      {"t":19.65,"c":2300,"d":320,"e":160,"f":22,"g":1},
      {"t":19.75,"c":2350,"d":240,"e":85,"f":28,"g":8},
      {"t":19.85,"c":2550,"d":290,"e":70,"f":40,"g":3},
      {"t":19.95,"c":2400,"d":270,"e":62,"f":45,"g":4},
      {"t":20.05,"c":2500,"d":250,"e":55,"f":22,"g":2},
      {"t":20.15,"c":2380,"d":280,"e":70,"f":30,"g":6},
      {"t":20.25,"c":2450,"d":230,"e":62,"f":16,"g":4},
      {"t":20.35,"c":2300,"d":220,"e":78,"f":28,"g":2},
      {"t":20.45,"c":2350,"d":280,"e":55,"f":24,"g":8},
      {"t":20.55,"c":2400,"d":300,"e":62,"f":18,"g":3},
      {"t":20.65,"c":2600,"d":260,"e":68,"f":28,"g":1},
      {"t":20.75,"c":2780,"d":330,"e":52,"f":18,"g":5},
      {"t":20.85,"c":2900,"d":290,"e":62,"f":8,"g":3},
      {"t":20.95,"c":2980,"d":320,"e":75,"f":24,"g":1},
      {"t":21.05,"c":3200,"d":420,"e":100,"f":20,"g":2},
      {"t":21.15,"c":2900,"d":380,"e":90,"f":16,"g":4},
      {"t":21.25,"c":2550,"d":280,"e":60,"f":22,"g":1},
      {"t":21.35,"c":2450,"d":270,"e":72,"f":16,"g":5},
      {"t":21.45,"c":2500,"d":250,"e":62,"f":26,"g":3},
      {"t":21.55,"c":2350,"d":240,"e":70,"f":20,"g":1},
      {"t":21.65,"c":2450,"d":260,"e":60,"f":24,"g":4},
      {"t":21.75,"c":2600,"d":240,"e":75,"f":18,"g":2},
      {"t":21.85,"c":2400,"d":280,"e":58,"f":28,"g":6},
      {"t":21.95,"c":2550,"d":250,"e":72,"f":16,"g":1},
      {"t":22.05,"c":2500,"d":250,"e":78,"f":26,"g":5},
      {"t":22.15,"c":2550,"d":285,"e":60,"f":18,"g":2},
      {"t":22.25,"c":2400,"d":250,"e":70,"f":26,"g":4},
      {"t":22.35,"c":2450,"d":270,"e":52,"f":16,"g":1},
      {"t":22.45,"c":2380,"d":230,"e":72,"f":26,"g":6},
      {"t":22.55,"c":2480,"d":240,"e":62,"f":18,"g":3},
      {"t":22.65,"c":2350,"d":215,"e":68,"f":24,"g":1},
      {"t":22.75,"c":2400,"d":265,"e":55,"f":14,"g":4},
      {"t":22.85,"c":2300,"d":220,"e":75,"f":20,"g":2},
      {"t":22.95,"c":2350,"d":240,"e":58,"f":24,"g":5},
      {"t":23.05,"c":2200,"d":185,"e":52,"f":22,"g":4},
      {"t":23.15,"c":2250,"d":200,"e":70,"f":16,"g":1},
      {"t":23.25,"c":2100,"d":180,"e":62,"f":24,"g":2},
      {"t":23.35,"c":2200,"d":210,"e":68,"f":14,"g":5},
      {"t":23.45,"c":2050,"d":165,"e":50,"f":22,"g":1},
      {"t":23.55,"c":2100,"d":180,"e":62,"f":26,"g":3},
      {"t":23.65,"c":2200,"d":160,"e":52,"f":16,"g":2},
      {"t":23.75,"c":2350,"d":210,"e":70,"f":22,"g":5},
      {"t":23.85,"c":2300,"d":190,"e":55,"f":14,"g":1},
      {"t":23.95,"c":2250,"d":220,"e":62,"f":24,"g":4}
    ]
  },
  "layer": [
    {
      "transform": [
        {"fold": ["a", "b", "c", "d", "e", "f", "g"], "as": ["k", "v"]},
        {"filter": {"field": "v", "valid": true}}
      ],
      "mark": {"type": "line", "strokeWidth": 2.2, "clip": true},
      "encoding": {
        "x": {
          "field": "t",
          "type": "quantitative",
          "scale": {"domain": [0, 24], "nice": false, "zero": false},
          "axis": {
            "orient": "bottom",
            "values": [0, 2, 4, 6, 8, 10, 12, 14, 16, 18, 20, 22, 24],
            "format": "d",
            "tickSize": 18,
            "labelBaseline": "alphabetic",
            "labelPadding": 83,
            "title": "Time (hour local)",
            "titleX": 816.5,
            "titleY": 188,
            "titleBaseline": "alphabetic"
          }
        },
        "y": {
          "field": "v",
          "type": "quantitative",
          "scale": {"type": "log", "domain": [1, 2000000], "nice": false},
          "axis": {
            "orient": "left",
            "values": [1, 10, 100, 1000, 10000, 100000, 1000000],
            "tickSize": 17,
            "labelExpr": "'10'",
            "labelAlign": "right",
            "labelBaseline": "alphabetic",
            "labelOffset": 36,
            "labelPadding": 53,
            "title": "Number density (counts/liter)",
            "titleAngle": 270,
            "titleX": -164,
            "titleY": 731,
            "titleBaseline": "alphabetic"
          }
        },
        "color": {
          "field": "k",
          "type": "nominal",
          "scale": {
            "domain": ["a", "b", "c", "d", "e", "f", "g"],
            "range": ["#0072BD", "#D95319", "#EDB120", "#7E2F8E", "#77AC30", "#4DBEEE", "#A2142F"]
          },
          "legend": {
            "title": null,
            "orient": "none",
            "legendX": 1357,
            "legendY": 61,
            "padding": 0,
            "symbolType": "M-5,0H5",
            "symbolSize": 676,
            "symbolStrokeWidth": 2.5,
            "labelFont": "Liberation Sans",
            "labelFontSize": 56,
            "labelColor": "black",
            "labelAlign": "center",
            "labelBaseline": "middle",
            "labelOffset": 101,
            "labelLimit": 0,
            "rowPadding": 18,
            "labelExpr": "{'a':'0.25','b':'0.35','c':'0.5','d':'0.7','e':'1.3','f':'2.5','g':'4'}[datum.label]"
          }
        }
      }
    },
    {
      "transform": [{"filter": "datum.t === 0"}],
      "mark": {"type": "point", "opacity": 0},
      "encoding": {
        "x": {
          "field": "t",
          "type": "quantitative",
          "scale": {"domain": [0, 24], "nice": false, "zero": false},
          "axis": {
            "orient": "bottom",
            "values": [0,0.2,0.4,0.6,0.8,1,1.2,1.4,1.6,1.8,2,2.2,2.4,2.6,2.8,3,3.2,3.4,3.6,3.8,4,4.2,4.4,4.6,4.8,5,5.2,5.4,5.6,5.8,6,6.2,6.4,6.6,6.8,7,7.2,7.4,7.6,7.8,8,8.2,8.4,8.6,8.8,9,9.2,9.4,9.6,9.8,10,10.2,10.4,10.6,10.8,11,11.2,11.4,11.6,11.8,12,12.2,12.4,12.6,12.8,13,13.2,13.4,13.6,13.8,14,14.2,14.4,14.6,14.8,15,15.2,15.4,15.6,15.8,16,16.2,16.4,16.6,16.8,17,17.2,17.4,17.6,17.8,18,18.2,18.4,18.6,18.8,19,19.2,19.4,19.6,19.8,20,20.2,20.4,20.6,20.8,21,21.2,21.4,21.6,21.8,22,22.2,22.4,22.6,22.8,23,23.2,23.4,23.6,23.8,24],
            "tickSize": 10,
            "labels": false,
            "domain": false,
            "title": null
          }
        },
        "y": {
          "field": "a",
          "type": "quantitative",
          "scale": {"type": "log", "domain": [1, 2000000], "nice": false},
          "axis": {
            "orient": "left",
            "values": [2,3,4,5,6,7,8,9,20,30,40,50,60,70,80,90,200,300,400,500,600,700,800,900,2000,3000,4000,5000,6000,7000,8000,9000,20000,30000,40000,50000,60000,70000,80000,90000,200000,300000,400000,500000,600000,700000,800000,900000],
            "tickSize": 10,
            "labels": false,
            "domain": false,
            "title": null
          }
        }
      }
    },
    {
      "transform": [{"filter": "datum.t === 0"}],
      "mark": {"type": "point", "opacity": 0},
      "encoding": {
        "x": {
          "field": "t",
          "type": "quantitative",
          "scale": {"domain": [0, 24], "nice": false, "zero": false},
          "axis": {
            "orient": "top",
            "values": [0, 2, 4, 6, 8, 10, 12, 14, 16, 18, 20, 22, 24],
            "tickSize": 18,
            "labels": false,
            "title": null
          }
        },
        "y": {
          "field": "a",
          "type": "quantitative",
          "scale": {"type": "log", "domain": [1, 2000000], "nice": false},
          "axis": {
            "orient": "right",
            "values": [1, 10, 100, 1000, 10000, 100000, 1000000],
            "tickSize": 17,
            "labels": false,
            "title": null
          }
        }
      }
    },
    {
      "transform": [{"filter": "datum.t === 0"}],
      "mark": {"type": "point", "opacity": 0},
      "encoding": {
        "x": {
          "field": "t",
          "type": "quantitative",
          "scale": {"domain": [0, 24], "nice": false, "zero": false},
          "axis": {
            "orient": "top",
            "values": [0,0.2,0.4,0.6,0.8,1,1.2,1.4,1.6,1.8,2,2.2,2.4,2.6,2.8,3,3.2,3.4,3.6,3.8,4,4.2,4.4,4.6,4.8,5,5.2,5.4,5.6,5.8,6,6.2,6.4,6.6,6.8,7,7.2,7.4,7.6,7.8,8,8.2,8.4,8.6,8.8,9,9.2,9.4,9.6,9.8,10,10.2,10.4,10.6,10.8,11,11.2,11.4,11.6,11.8,12,12.2,12.4,12.6,12.8,13,13.2,13.4,13.6,13.8,14,14.2,14.4,14.6,14.8,15,15.2,15.4,15.6,15.8,16,16.2,16.4,16.6,16.8,17,17.2,17.4,17.6,17.8,18,18.2,18.4,18.6,18.8,19,19.2,19.4,19.6,19.8,20,20.2,20.4,20.6,20.8,21,21.2,21.4,21.6,21.8,22,22.2,22.4,22.6,22.8,23,23.2,23.4,23.6,23.8,24],
            "tickSize": 10,
            "labels": false,
            "domain": false,
            "title": null
          }
        },
        "y": {
          "field": "a",
          "type": "quantitative",
          "scale": {"type": "log", "domain": [1, 2000000], "nice": false},
          "axis": {
            "orient": "right",
            "values": [2,3,4,5,6,7,8,9,20,30,40,50,60,70,80,90,200,300,400,500,600,700,800,900,2000,3000,4000,5000,6000,7000,8000,9000,20000,30000,40000,50000,60000,70000,80000,90000,200000,300000,400000,500000,600000,700000,800000,900000],
            "tickSize": 10,
            "labels": false,
            "domain": false,
            "title": null
          }
        }
      }
    },
    {
      "transform": [{"filter": "datum.t === 0"}],
      "mark": {"type": "point", "opacity": 0},
      "encoding": {
        "x": {
          "field": "t",
          "type": "quantitative",
          "scale": {"domain": [0, 24], "nice": false, "zero": false},
          "axis": null
        },
        "y": {
          "field": "a",
          "type": "quantitative",
          "scale": {"type": "log", "domain": [1, 2000000], "nice": false},
          "axis": {
            "orient": "left",
            "values": [1, 10, 100, 1000, 10000, 100000, 1000000],
            "ticks": true,
            "tickSize": 0,
            "tickOpacity": 0,
            "domain": false,
            "labelExpr": "'' + round(log(datum.value) / LN10)",
            "labelFontSize": 48,
            "labelAlign": "left",
            "labelBaseline": "alphabetic",
            "labelOffset": 5,
            "labelPadding": 69,
            "title": null
          }
        }
      }
    }
  ],
  "resolve": {"axis": {"x": "independent", "y": "independent"}}
}
